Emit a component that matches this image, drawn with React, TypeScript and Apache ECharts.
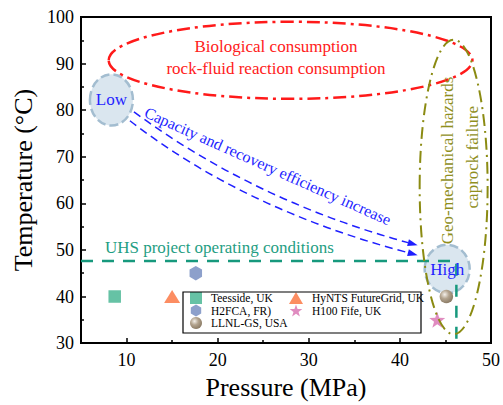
import React, { useEffect, useRef } from 'react';
import * as echarts from 'echarts';

const seriesNames = ['Teesside, UK', 'HyNTS FutureGrid, UK', 'H2FCA, FR)', 'H100 Fife, UK', 'LLNL-GS, USA'];
const pressureMPa = [8.7, 15.0, 17.6, 44.1, 45.1];
const temperatureC = [40, 40, 45, 35, 40];
const xTickValues = [10, 20, 30, 40, 50];
const xMinorTickValues = [15, 25, 35, 45];
const uhsPressure = [5, 46.2, 46.2];
const uhsTemperature = [47.6, 47.6, 30];

const FONT = 'Liberation Serif';
const HEX = 'path://M0,-10 L8.66,-5 L8.66,5 L0,10 L-8.66,5 L-8.66,-5 Z';
const STAR = 'path://M0,-10 L2.35,-3.24 L9.51,-3.09 L3.8,1.24 L5.88,8.09 L0,4 L-5.88,8.09 L-3.8,1.24 L-9.51,-3.09 L-2.35,-3.24 Z';

const symbols: any[] = ['rect', 'triangle', HEX, STAR, 'circle'];
const symbolSizes: any[] = [12.5, [16, 13], [12.5, 14.5], 16, 13.5];
const colors: any[] = [
  '#66c2a5',
  '#fc8d62',
  '#8da0cb',
  '#e08cc0',
  {
    type: 'radial', x: 0.38, y: 0.35, r: 0.7,
    colorStops: [
      { offset: 0, color: '#f4f0ea' },
      { offset: 0.45, color: '#b3a48f' },
      { offset: 1, color: '#877761' },
    ],
  },
];

export default function App() {
  const ref = useRef<HTMLDivElement>(null);
  useEffect(() => {
    document.body.style.margin = '0';
    const chart = echarts.init(ref.current!, null, { renderer: 'svg' });
    const scatterSeries = seriesNames.map((name, i) => ({
      name,
      type: 'scatter',
      data: [[pressureMPa[i], temperatureC[i]]],
      symbol: symbols[i],
      symbolSize: symbolSizes[i],
      itemStyle: { color: colors[i], opacity: 1 },
      z: 5,
    }));
    const legendText = { fontFamily: FONT, fontSize: 11.5, lineHeight: 12, color: '#000', padding: [0, 0, 0, 4] };
    chart.setOption({
      animation: false,
      textStyle: { fontFamily: FONT },
      grid: { left: 81, right: 11, top: 17, bottom: 58, show: true, borderColor: '#000', borderWidth: 2 },
      xAxis: [
        {
          type: 'value', min: 5, max: 50,
          name: 'Pressure (MPa)', nameLocation: 'middle', nameGap: 30,
          nameTextStyle: { fontFamily: FONT, fontSize: 26, color: '#000' },
          axisLine: { show: true, lineStyle: { color: '#000', width: 2 } },
          axisTick: { show: true, inside: true, length: 5, customValues: xTickValues, lineStyle: { color: '#000', width: 1.5 } },
          axisLabel: { customValues: xTickValues, fontFamily: FONT, fontSize: 18, color: '#000', margin: 8 },
          splitLine: { show: false },
        },
        {
          type: 'value', min: 5, max: 50, position: 'bottom', offset: 0,
          axisLine: { show: false },
          axisTick: { show: true, inside: true, length: 3, customValues: xMinorTickValues, lineStyle: { color: '#000', width: 1.5 } },
          axisLabel: { show: false },
          splitLine: { show: false },
        },
      ],
      yAxis: {
        type: 'value', min: 30, max: 100, interval: 10,
        name: 'Temperature (\u00B0C)', nameLocation: 'middle', nameGap: 41,
        nameTextStyle: { fontFamily: FONT, fontSize: 26, color: '#000' },
        axisLine: { show: true, lineStyle: { color: '#000', width: 2 } },
        axisTick: { show: true, inside: true, length: 5, lineStyle: { color: '#000', width: 1.5 } },
        minorTick: { show: true, splitNumber: 2, length: 3, lineStyle: { color: '#000', width: 1.5 } },
        axisLabel: { fontFamily: FONT, fontSize: 18, color: '#000', margin: 7 },
        splitLine: { show: false },
      },
      legend: [
        {
          data: ['Teesside, UK', 'H2FCA, FR)', 'LLNL-GS, USA'],
          orient: 'vertical', left: 190, top: 292, itemWidth: 12, itemHeight: 12, itemGap: 0.5,
          padding: 0, selectedMode: false, textStyle: legendText,
        },
        {
          data: ['HyNTS FutureGrid, UK', 'H100 Fife, UK'],
          orient: 'vertical', left: 289, top: 292, itemWidth: 14, itemHeight: 12, itemGap: 0.5,
          padding: 0, selectedMode: false, textStyle: legendText,
        },
      ],
      series: [
        {
          name: 'UHS project operating conditions',
          type: 'line',
          data: uhsPressure.map((p, i) => [p, uhsTemperature[i]]),
          symbol: 'none',
          lineStyle: { color: '#17997d', width: 2.5, type: [12, 9] },
          z: 3,
          silent: true,
        },
        ...scatterSeries,
      ],
    });

    const toPx = (p: number[]) => chart.convertToPixel({ xAxisIndex: 0, yAxisIndex: 0 }, p) as number[];
    const a = toPx([5, 30]);
    const b = toPx([50, 100]);
    const sx = (b[0] - a[0]) / 45;
    const sy = (a[1] - b[1]) / 70;

    const ellipse = (c: number[], rx: number, ry: number, style: any, z: number) => {
      const p = toPx(c);
      return { type: 'ellipse', shape: { cx: p[0], cy: p[1], rx: rx * sx, ry: ry * sy }, style, z };
    };
    const text = (c: number[], t: string, fontSize: number, fill: string, rotation = 0) => {
      const p = toPx(c);
      return {
        type: 'text', x: p[0], y: p[1], rotation, z: 20,
        style: { text: t, fontFamily: FONT, fontSize, fill, align: 'center', verticalAlign: 'middle' },
      };
    };
    const arrow = (s: number[], c: number[], e: number[]) => {
      const ps = toPx(s), pc = toPx(c), pe = toPx(e);
      const dx = pe[0] - pc[0], dy = pe[1] - pc[1];
      const len = Math.hypot(dx, dy);
      const ux = dx / len, uy = dy / len;
      const L = 10, W = 3.5;
      const bx = pe[0] - ux * L, by = pe[1] - uy * L;
      return [
        {
          type: 'bezierCurve', z: 15,
          shape: { x1: ps[0], y1: ps[1], x2: bx, y2: by, cpx1: pc[0], cpy1: pc[1] },
          style: { stroke: '#1f1fff', lineWidth: 1.5, lineDash: [8, 5], fill: 'none' },
        },
        {
          type: 'polygon', z: 15,
          shape: { points: [[pe[0], pe[1]], [bx - uy * W, by + ux * W], [bx + uy * W, by - ux * W]] },
          style: { fill: '#1f1fff' },
        },
      ];
    };

    const bubbleStyle = { fill: '#dae6ef', stroke: '#a3bdd0', lineWidth: 2.5, lineDash: [9, 4] };
    const graphic: any[] = [
      ellipse([28.0, 90.7], 19.96, 8.27, { fill: 'none', stroke: '#ff1a1a', lineWidth: 2.5, lineDash: [13, 5, 3, 5] }, 12),
      ellipse([45.9, 63.5], 3.73, 31.6, { fill: 'none', stroke: '#8b8b12', lineWidth: 2, lineDash: [12, 5, 2, 5] }, 12),
      ellipse([8.34, 82.2], 2.36, 5.5, bubbleStyle, 1),
      ellipse([45.19, 45.9], 2.47, 5.2, bubbleStyle, 1),
      text([26.4, 93.6], 'Biological consumption', 17, '#ff2020'),
      text([26.4, 89.0], 'rock-fluid reaction consumption', 17, '#ff2020'),
      text([45.24, 69.2], 'Geo-mechanical hazards', 17, '#8f8f1e', Math.PI / 2),
      text([47.98, 69.9], 'caprock failure', 17, '#8f8f1e', Math.PI / 2),
      text([8.34, 82.2], 'Low', 17, '#1f1fff'),
      text([45.19, 45.9], 'High', 17, '#1f1fff'),
      text([25.5, 68.0], 'Capacity and recovery efficiency increase', 16, '#1f1fff', -24 * Math.PI / 180),
      text([20.19, 50.57], 'UHS project operating conditions', 17, '#1f9e83'),
      ...arrow([10.81, 79.64], [24.08, 60.54], [41.95, 51.0]),
      ...arrow([10.37, 77.73], [22.98, 58.63], [41.95, 48.88]),
      {
        type: 'rect', z: 20, silent: true,
        shape: { x: 183, y: 292, width: 238, height: 41 },
        style: { fill: 'none', stroke: '#000', lineWidth: 1.2 },
      },
    ];
    chart.setOption({ graphic });
    return () => chart.dispose();
  }, []);
  return <div ref={ref} style={{ width: 503, height: 405 }} />;
}
